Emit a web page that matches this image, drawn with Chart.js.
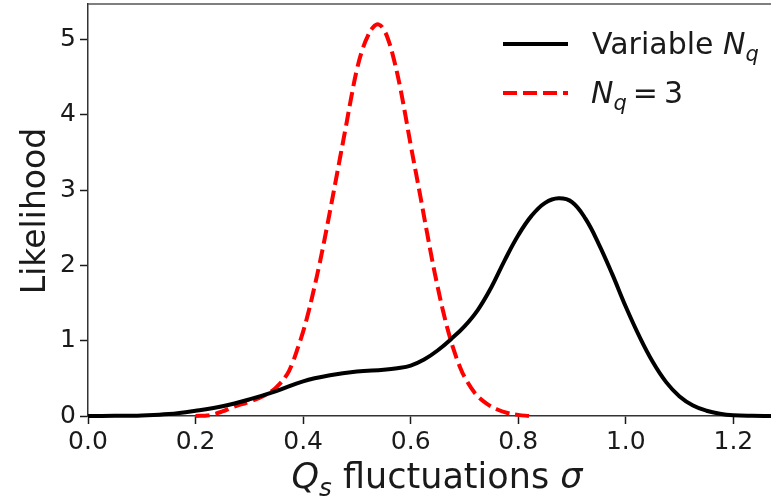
<!DOCTYPE html>
<html>
<head>
<meta charset="utf-8">
<script src="https://cdn.jsdelivr.net/npm/chart.js@4.4.0/dist/chart.umd.min.js"></script>
<style>
  html, body { margin: 0; padding: 0; background: #fff; }
  canvas { display: block; }
</style>
</head>
<body>
<canvas id="grafico" width="771" height="502"></canvas>
<script>
// curva negra: N_q variable
const xVariable = [0.00, 0.05, 0.10, 0.15, 0.20, 0.25, 0.30, 0.35, 0.40, 0.45, 0.50, 0.55, 0.575, 0.60, 0.625, 0.65, 0.675, 0.70, 0.725, 0.75, 0.775, 0.80, 0.825, 0.85, 0.875, 0.90, 0.925, 0.95, 0.975, 1.00, 1.025, 1.05, 1.075, 1.10, 1.125, 1.15, 1.175, 1.20, 1.235, 1.27];
const yVariable = [0.000, 0.002, 0.008, 0.025, 0.070, 0.13, 0.22, 0.33, 0.46, 0.54, 0.59, 0.615, 0.635, 0.67, 0.75, 0.87, 1.02, 1.19, 1.41, 1.71, 2.07, 2.40, 2.66, 2.83, 2.89, 2.84, 2.62, 2.28, 1.88, 1.45, 1.06, 0.72, 0.45, 0.26, 0.14, 0.07, 0.03, 0.01, 0.002, 0.00];

// curva roja discontinua: N_q = 3
const xFijo = [0.20, 0.225, 0.25, 0.27, 0.30, 0.33, 0.35, 0.37, 0.38, 0.39, 0.40, 0.41, 0.42, 0.43, 0.44, 0.45, 0.46, 0.47, 0.48, 0.49, 0.50, 0.51, 0.52, 0.53, 0.54, 0.55, 0.56, 0.57, 0.58, 0.59, 0.60, 0.61, 0.62, 0.63, 0.64, 0.65, 0.66, 0.67, 0.68, 0.69, 0.70, 0.72, 0.74, 0.76, 0.78, 0.80, 0.82];
const yFijo = [0.00, 0.01, 0.06, 0.12, 0.19, 0.28, 0.38, 0.55, 0.70, 0.90, 1.12, 1.38, 1.68, 2.00, 2.35, 2.72, 3.10, 3.48, 3.86, 4.25, 4.60, 4.86, 5.04, 5.16, 5.20, 5.13, 4.96, 4.70, 4.38, 4.00, 3.60, 3.22, 2.84, 2.45, 2.07, 1.72, 1.40, 1.12, 0.88, 0.68, 0.52, 0.30, 0.17, 0.09, 0.04, 0.015, 0.00];

const xTicks = [0.0, 0.2, 0.4, 0.6, 0.8, 1.0, 1.2];
const yTicks = [0, 1, 2, 3, 4, 5];

const FONT = '"DejaVu Sans", sans-serif';
const INK = '#1a1a1a';

const puntos = (xs, ys) => xs.map((x, i) => ({ x: x, y: ys[i] }));

// dibuja trozos de texto (normal / cursiva / subindice) seguidos
function trozos(ctx, partes, size) {
    return partes.map(p => {
        const s = p.sub ? size * 0.7 : size;
        ctx.font = (p.it ? 'italic ' : '') + s + 'px ' + FONT;
        return { t: p.t, font: ctx.font, w: ctx.measureText(p.t).width, dy: p.sub ? size * 0.22 : 0 };
    });
}
function pintar(ctx, partes, size, x, y, align) {
    const ps = trozos(ctx, partes, size);
    const total = ps.reduce((a, p) => a + p.w, 0);
    let cx = align === 'center' ? x - total / 2 : x;
    ctx.textAlign = 'left';
    ctx.textBaseline = 'alphabetic';
    ps.forEach(p => {
        ctx.font = p.font;
        ctx.fillText(p.t, cx, y + p.dy);
        cx += p.w;
    });
}

const extras = {
    id: 'extras',
    afterDraw(chart) {
        const ctx = chart.ctx;
        const a = chart.chartArea;
        ctx.save();
        // borde superior
        ctx.strokeStyle = '#555';
        ctx.lineWidth = 1.5;
        ctx.beginPath();
        ctx.moveTo(a.left, a.top);
        ctx.lineTo(a.right, a.top);
        ctx.stroke();

        ctx.fillStyle = INK;
        // titulo eje x
        pintar(ctx, [
            { t: 'Q', it: true },
            { t: 's', it: true, sub: true },
            { t: ' fluctuations ' },
            { t: 'σ', it: true }
        ], 35, 437, 488, 'center');

        // titulo eje y
        ctx.save();
        ctx.translate(45, 211);
        ctx.rotate(-Math.PI / 2);
        ctx.font = '33px ' + FONT;
        ctx.textAlign = 'center';
        ctx.textBaseline = 'alphabetic';
        ctx.fillText('Likelihood', 0, 0);
        ctx.restore();

        // leyenda
        ctx.lineWidth = 4;
        ctx.strokeStyle = '#000';
        ctx.setLineDash([]);
        ctx.beginPath();
        ctx.moveTo(503, 44);
        ctx.lineTo(568, 44);
        ctx.stroke();
        ctx.strokeStyle = '#ff0000';
        ctx.setLineDash([14, 6]);
        ctx.beginPath();
        ctx.moveTo(503, 93);
        ctx.lineTo(568, 93);
        ctx.stroke();
        ctx.setLineDash([]);

        pintar(ctx, [
            { t: 'Variable ' },
            { t: 'N', it: true },
            { t: 'q', it: true, sub: true }
        ], 30, 592, 54);
        pintar(ctx, [
            { t: 'N', it: true },
            { t: 'q', it: true, sub: true },
            { t: '\u2009=\u20093' }
        ], 30, 591, 103);
        ctx.restore();
    }
};

const ctx = document.getElementById('grafico').getContext('2d');

const chart = new Chart(ctx, {
    type: 'line',
    data: {
        datasets: [{
            label: 'Variable Nq',
            data: puntos(xVariable, yVariable),
            borderColor: '#000',
            borderWidth: 4,
            pointRadius: 0,
            tension: 0.4,
            clip: 4
        }, {
            label: 'Nq = 3',
            data: puntos(xFijo, yFijo),
            borderColor: '#ff0000',
            borderWidth: 4,
            borderDash: [14, 6],
            pointRadius: 0,
            tension: 0.4,
            clip: 4
        }]
    },
    options: {
        responsive: false,
        animation: false,
        layout: { padding: { top: 4, right: 0, left: 0, bottom: 0 } },
        plugins: {
            legend: { display: false },
            tooltip: { enabled: false }
        },
        scales: {
            x: {
                type: 'linear',
                min: 0,
                max: 1.27,
                afterBuildTicks: s => { s.ticks = xTicks.map(v => ({ value: v })); },
                afterFit: s => { s.height = 86; s.paddingLeft = 0; s.paddingRight = 0; },
                ticks: {
                    callback: v => v.toFixed(1),
                    font: { family: FONT, size: 25 },
                    color: INK,
                    padding: 3,
                    maxRotation: 0,
                    autoSkip: false
                },
                grid: { drawOnChartArea: false, tickLength: 8, color: INK, tickWidth: 1.5 },
                border: { color: '#333', width: 1.5 }
            },
            y: {
                min: 0,
                max: 5.47,
                afterBuildTicks: s => { s.ticks = yTicks.map(v => ({ value: v })); },
                afterFit: s => { s.width = 88; s.paddingTop = 0; s.paddingBottom = 0; },
                ticks: {
                    font: { family: FONT, size: 25 },
                    color: INK,
                    padding: 4
                },
                grid: { drawOnChartArea: false, tickLength: 8, color: INK, tickWidth: 1.5 },
                border: { color: '#333', width: 1.5 }
            }
        }
    },
    plugins: [extras]
});
</script>
</body>
</html>
